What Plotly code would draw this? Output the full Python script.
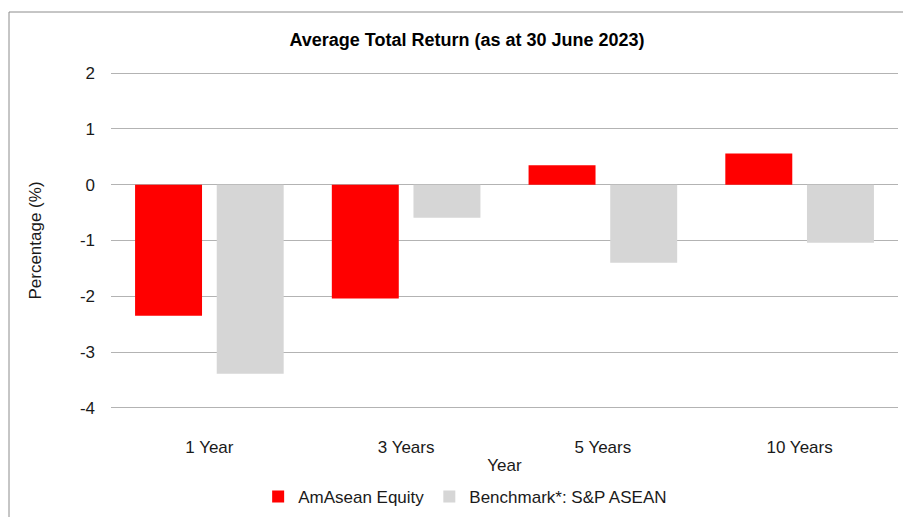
import plotly.graph_objects as go

categories = ["1 Year", "3 Years", "5 Years", "10 Years"]
amasean = [-2.35, -2.04, 0.35, 0.56]
benchmark = [-3.39, -0.59, -1.40, -1.04]
series_names = ["AmAsean Equity", "Benchmark*: S&P ASEAN"]
y_ticks = [-4, -3, -2, -1, 0, 1, 2]
y_tick_text = ["-4", "-3", "-2", "-1", "0", "1", "2"]

FONT = "Liberation Sans, Arial, sans-serif"
TXT = "#1a1a1a"
GRID = "#b3b3b3"

# page body has an 8px margin, so the figure is drawn 8px smaller
W, H = 903, 509
L, R, T, B = 103, 13, 63, 107
PH = H - T - B

fig = go.Figure()
fig.add_trace(go.Bar(x=categories, y=amasean, name=series_names[0],
                     marker=dict(color="#ff0000", line=dict(width=0))))
fig.add_trace(go.Bar(x=categories, y=benchmark, name=series_names[1],
                     marker=dict(color="#d6d6d6", line=dict(width=0))))

fig.update_layout(
    width=W, height=H,
    margin=dict(l=L, r=R, t=T, b=B, autoexpand=False),
    paper_bgcolor="white", plot_bgcolor="white",
    font=dict(family=FONT, size=17, color=TXT),
    barmode="group", bargap=0.17, bargroupgap=0.18,
    title=dict(text="<b>Average Total Return (as at 30 June 2023)</b>",
               x=459/W, xanchor="center", y=1-32/H, yanchor="middle",
               font=dict(size=18, color="#000000")),
    showlegend=True,
    legend=dict(orientation="h", x=0.45, xanchor="center",
                y=(H - B - 489)/PH, yanchor="middle", itemwidth=30,
                font=dict(size=17, color=TXT), traceorder="normal"),
    xaxis=dict(showgrid=False, showline=False, ticks="", zeroline=False,
               ticklabelstandoff=25, automargin=False,
               title=dict(text="Year", standoff=3, font=dict(size=17))),
    yaxis=dict(range=[-4.04, 2.04], tickvals=y_ticks, ticktext=y_tick_text,
               showgrid=True, gridcolor=GRID, gridwidth=1, zeroline=True,
               zerolinecolor=GRID, zerolinewidth=1, showline=False,
               ticks="", ticklabelstandoff=15, automargin=False,
               title=dict(text="Percentage (%)", standoff=33, font=dict(size=17))),
    shapes=[dict(type="rect", xref="paper", yref="paper",
                 x0=(1-L)/(W-L-R), x1=1.2, y0=-0.6, y1=(H-B-4)/PH,
                 line=dict(color="#8c8c8c", width=1), fillcolor="rgba(0,0,0,0)",
                 layer="below")],
)

fig.write_html("out.html")
